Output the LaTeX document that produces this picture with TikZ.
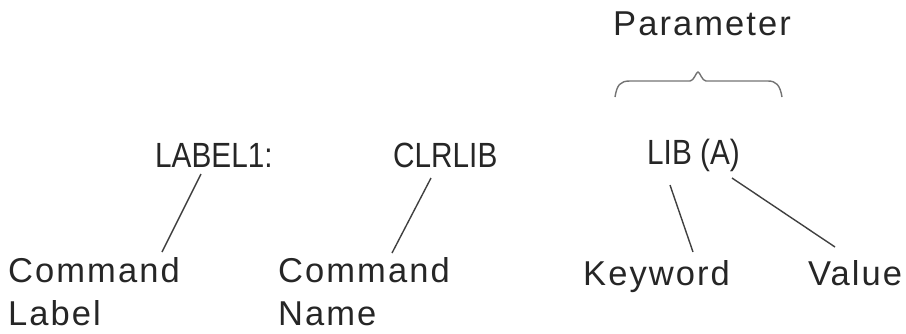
\documentclass[tikz,border=0pt]{standalone}
\usepackage{fontspec}
\setmainfont{Liberation Sans}[LetterSpace=6]
\newfontfamily\codefont{Liberation Sans}[FakeStretch=0.85]
\begin{document}
\begin{tikzpicture}[x=1pt,y=-1pt,
  txt/.style={anchor=base west,inner sep=0pt,text=black!85,font=\fontsize{34.5}{40}\selectfont},
  code/.style={anchor=base west,inner sep=0pt,text=black!85,font=\codefont\fontsize{35}{40}\selectfont},
  conn/.style={draw=black!75,line width=1.4pt},
  brace/.style={draw=black!55,line width=1.4pt}]
\useasboundingbox (0,0) rectangle (906,333);
% texts
\node[txt]  (param) at (613,35) {Parameter};
\node[code] (label1) at (155,167) {LABEL1:};
\node[code] (clrlib) at (393,167) {CLRLIB};
\node[code] (lib) at (647,164) {LIB (A)};
\node[txt]  (cmdlab) at (8,282) {Command};
\node[txt]  (lab) at (8,325) {Label};
\node[txt]  (cmdname) at (278,282) {Command};
\node[txt]  (name) at (278,325) {Name};
\node[txt]  (kw) at (583,285) {Keyword};
\node[txt]  (val) at (808,285) {Value};
% connector ends
\coordinate (l1a) at (201,174);
\coordinate (l1b) at (162,252);
\coordinate (c1a) at (431,178);
\coordinate (c1b) at (392,253);
\coordinate (k1a) at (670,185);
\coordinate (k1b) at (693,252);
\coordinate (v1a) at (732,178);
\coordinate (v1b) at (835,247);
\draw[conn] (l1a) -- (l1b);
\draw[conn] (c1a) -- (c1b);
\draw[conn] (k1a) -- (k1b);
\draw[conn] (v1a) -- (v1b);
% brace
\coordinate (bl) at (615,97);
\coordinate (bm) at (698,72);
\coordinate (br) at (782,97);
\draw[brace] (bl) .. controls (617,85) and (620,81) .. (630,81) -- (690,81)
  .. controls (694,81) and (696,72) .. (bm)
  .. controls (700,72) and (702,81) .. (706,81) -- (768,81)
  .. controls (776,81) and (780,85) .. (br);
\end{tikzpicture}
\end{document}
